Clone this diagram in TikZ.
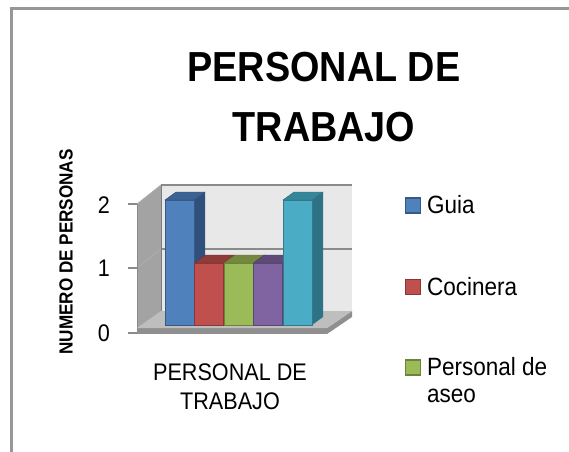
\documentclass[tikz,border=0pt]{standalone}
\usepackage{fontspec}
\setmainfont{Liberation Sans}
\newfontfamily\condfont[FakeStretch=0.9]{Liberation Sans}
\definecolor{framegray}{HTML}{979797}
\definecolor{wallside}{HTML}{A3A3A3}
\definecolor{backwall}{HTML}{E8E8E8}
\definecolor{floortop}{HTML}{BEBEBE}
\definecolor{floorfront}{HTML}{8F8F8F}
\definecolor{gridgray}{HTML}{8A8A8A}
\definecolor{cblue}{HTML}{4F81BD}
\definecolor{cbluetop}{HTML}{3C6194}
\definecolor{cblueside}{HTML}{30507C}
\definecolor{cred}{HTML}{C0504D}
\definecolor{credtop}{HTML}{8E3B39}
\definecolor{cgreen}{HTML}{9BBB59}
\definecolor{cgreentop}{HTML}{74893F}
\definecolor{cpurple}{HTML}{8064A2}
\definecolor{cpurpletop}{HTML}{5F4A78}
\definecolor{ccyan}{HTML}{4BACC6}
\definecolor{ccyantop}{HTML}{35869B}
\definecolor{ccyanside}{HTML}{2E7385}
% bar: x1, x2, ytop, front, top, side
\newcommand\drawchartbar[6]{%
  \fill[#6] (#2,#3) -- (#2+11,#3-8) -- (#2+11,317) -- (#2,325) -- cycle;
  \filldraw[#5, draw=#5!80!black, line width=0.4pt] (#1,#3) -- (#1+11,#3-8) -- (#2+11,#3-8) -- (#2,#3) -- cycle;
  \filldraw[#4, draw=#4!70!black, line width=0.6pt] (#1,#3) rectangle (#2,325);
}
\tikzset{
  axisnum/.style={font=\condfont\fontsize{24}{28}\selectfont, inner sep=0pt},
  legtext/.style={font=\condfont\fontsize{25}{27}\selectfont, inner sep=0pt, anchor=base west, align=left},
  legbox/.style={minimum width=15pt, minimum height=15pt, inner sep=0pt, line width=1.2pt},
  tick/.style={gridgray, line width=1.2pt}
}
\begin{document}
\begin{tikzpicture}[x=1pt,y=-1pt]
\useasboundingbox (0,0) rectangle (569,451);
\fill[white] (0,0) rectangle (569,451);
% frame
\draw[framegray, line width=3pt] (11,452) -- (11,8.5) -- (570,8.5);
% title
\node[font=\condfont\bfseries\fontsize{42}{60}\selectfont, align=center, anchor=north, inner sep=0pt] (title) at (324,52) {PERSONAL DE\\TRABAJO};
% y axis title
\node[font=\condfont\bfseries\fontsize{19}{22}\selectfont, rotate=90, inner sep=0pt] (ytitle) at (66,252) {NUMERO DE PERSONAS};
% walls
\fill[backwall] (161,185) rectangle (352,313);
\fill[wallside] (137,204) -- (161,185) -- (161,313) -- (137,333) -- cycle;
\draw[gridgray, line width=1.2pt] (161,185) -- (352,185);
\draw[gridgray, line width=1.2pt] (161,249) -- (352,249);
\draw[gridgray!70, line width=0.8pt] (137,204) -- (161,185);
\draw[gridgray!70, line width=0.8pt] (137,268) -- (161,249);
\draw[gridgray!90!black, line width=0.8pt] (161,185) -- (161,313);
\draw[gridgray, line width=1pt] (137,204) -- (137,333);
% floor
\fill[floorfront] (137,328) -- (327,328) -- (327,334) -- (137,334) -- cycle;
\fill[floorfront] (327,328) -- (352,311) -- (352,317) -- (327,334) -- cycle;
\fill[floortop] (137,328) -- (161,311) -- (352,311) -- (327,328) -- cycle;
% ticks
\draw[tick] (128,204) -- (137,204);
\draw[tick] (128,268) -- (137,268);
\draw[tick] (128,333) -- (137,333);
% numbers
\node[axisnum] (n2) at (104,205) {2};
\node[axisnum] (n1) at (104,268) {1};
\node[axisnum] (n0) at (104,333) {0};
% bars
\drawchartbar{165}{194}{200}{cblue}{cbluetop}{cblueside}
\drawchartbar{194.5}{223.5}{263}{cred}{credtop}{credtop}
\drawchartbar{224}{253}{263}{cgreen}{cgreentop}{cgreentop}
\drawchartbar{253.5}{282.5}{263}{cpurple}{cpurpletop}{cpurpletop}
\drawchartbar{283}{312}{200}{ccyan}{ccyantop}{ccyanside}
% category label
\node[font=\condfont\fontsize{24}{29}\selectfont, align=center, anchor=north, inner sep=0pt] (cat) at (230,364) {PERSONAL DE\\TRABAJO};
% legend
\node[legbox, fill=cblue, draw=cblue!70!black] (lg1) at (413,205.5) {};
\node[legbox, fill=cred, draw=cred!70!black] (lg2) at (413,287) {};
\node[legbox, fill=cgreen, draw=cgreen!70!black] (lg3) at (413,367.5) {};
\node[legtext] (lt1) at (427,213) {Guia};
\node[legtext] (lt2) at (427,295) {Cocinera};
\node[legtext, anchor=north west] (lt3) at (427,357) {Personal de\\aseo};
\end{tikzpicture}
\end{document}
